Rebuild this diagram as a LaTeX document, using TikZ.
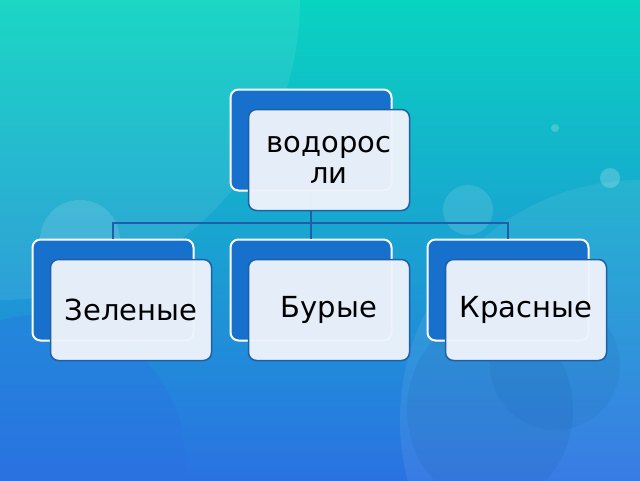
\documentclass[tikz,border=0pt]{standalone}
\usepackage{fontspec}
\setsansfont{DejaVu Sans}
\definecolor{seatop}{HTML}{08D4C0}
\definecolor{seamid}{HTML}{44C4EA}
\definecolor{seabot}{HTML}{2A72E2}
\definecolor{backblue}{HTML}{1670CC}
\definecolor{lineblue}{HTML}{1E5FAA}
\definecolor{cardfill}{HTML}{EEF3FB}
\tikzset{
  backcard/.style={draw=white, line width=2pt, fill=backblue, rounded corners=8pt,
    minimum width=161pt, minimum height=101pt},
  frontcard/.style={draw=lineblue, line width=1.5pt, fill=cardfill, fill opacity=0.96,
    text opacity=1, rounded corners=8pt, minimum width=161pt, minimum height=101pt,
    font=\sffamily\fontsize{29}{31}\selectfont, align=center},
  link/.style={draw=lineblue, line width=1.5pt}
}
\begin{document}
\begin{tikzpicture}[x=1pt, y=-1pt]
        \useasboundingbox (0,0) rectangle (640,480);
        % Fondo marino
        \shade[top color=seatop, middle color=seamid, bottom color=seabot] (0,0) rectangle (640,480);
        \begin{scope}
            \clip (0,0) rectangle (640,480);
            \fill[white, opacity=0.08] (0,0) circle (300);
            \fill[white, opacity=0.07] (640,420) circle (240);
            \fill[seabot, opacity=0.35] (40,460) circle (145);
            \fill[lineblue, opacity=0.15] (490,410) ellipse (83 and 95);
            \fill[lineblue, opacity=0.12] (555,365) circle (65);
            \fill[white, opacity=0.12] (80,240) circle (40);
            \fill[white, opacity=0.12] (468,210) circle (25);
            \fill[white, opacity=0.2] (610,178) circle (10);
            \fill[white, opacity=0.2] (555,128) circle (4);
        \end{scope}

        % Carte posteriori
        \node[backcard] (vback) at (311,140) {};
        \node[backcard] (zback) at (113,290) {};
        \node[backcard] (bback) at (311,290) {};
        \node[backcard] (kback) at (508,290) {};

        % Collegamenti
        \coordinate (hub) at (311,223);
        \draw[link] (vback.south) -- (hub);
        \draw[link] (hub) -| (zback.north);
        \draw[link] (hub) -- (bback.north);
        \draw[link] (hub) -| (kback.north);

        % Carte anteriori
        \node[frontcard] (vfront) at (329,160) {водорос\\ли};
        \node[frontcard] (zfront) at (131,310) {Зеленые};
        \node[frontcard] (bfront) at (329,310) {Бурые};
        \node[frontcard] (kfront) at (526,310) {Красные};
\end{tikzpicture}
\end{document}
